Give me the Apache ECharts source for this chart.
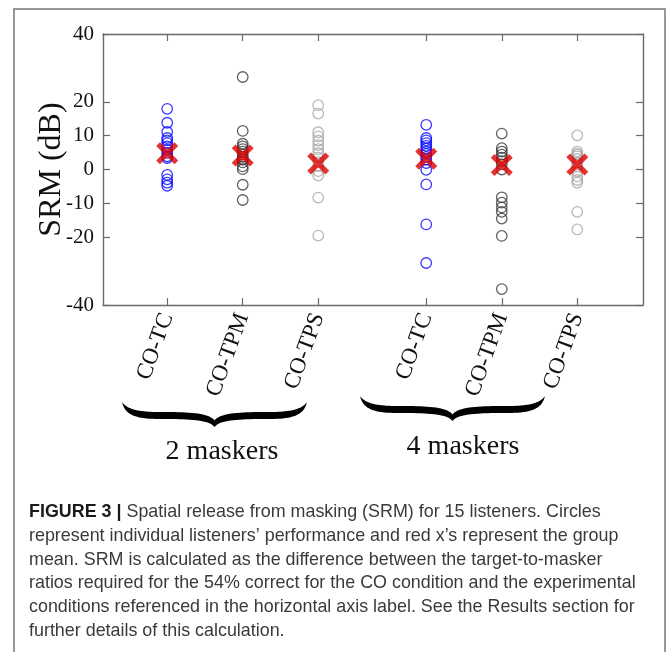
<!DOCTYPE html>
<html>
<head>
<meta charset="utf-8">
<script src="https://cdn.jsdelivr.net/npm/echarts@6/dist/echarts.min.js"></script>
<style>
html,body{margin:0;padding:0;background:#fff;}
#chart{width:669px;height:652px;}
</style>
</head>
<body>
<div id="chart"></div>
<script>
// ---- data ----
const positions = [1, 2, 3, 4.43, 5.43, 6.43];
const conditionLabels = ['CO-TC', 'CO-TPM', 'CO-TPS', 'CO-TC', 'CO-TPM', 'CO-TPS'];
const yTicks = [-40, -20, -10, 0, 10, 20, 40];
const groupLabels = ['2 maskers', '4 maskers'];

const tc2  = [17.9, 13.8, 11.1, 9.3, 8.6, 7.8, 6.8, 5.8, 4.9, 3.9, 3.4, -1.6, -2.9, -3.9, -4.8];
const tpm2 = [27.3, 11.4, 7.6, 6.8, 6.0, 5.3, 4.4, 3.7, 3.0, 2.9, 2.1, 0.9, 0.1, -4.5, -9.0];
const tps2 = [19.0, 16.5, 11.0, 9.8, 8.5, 7.2, 6.0, 4.8, 3.5, 2.2, 1.0, -0.5, -1.8, -8.3, -19.5];
const tc4  = [13.2, 9.3, 8.6, 7.8, 7.0, 6.2, 5.3, 4.6, 3.7, 2.9, 1.9, -0.1, -4.4, -16.2, -27.6];
const tpm4 = [10.6, 6.3, 5.3, 4.4, 3.5, 2.5, 1.5, 0.0, -8.2, -9.8, -11.2, -12.5, -14.5, -19.6, -35.3];
const tps4 = [10.1, 5.3, 4.7, 4.3, 3.9, 3.1, 2.1, 1.5, 0.9, -0.6, -2.1, -3.1, -3.9, -12.5, -17.7];
const means = [4.8, 4.1, 1.8, 3.2, 1.3, 1.5];

const captionLines = [
  'Spatial release from masking (SRM) for 15 listeners. Circles',
  'represent individual listeners\u2019 performance and red x\u2019s represent the group',
  'mean. SRM is calculated as the difference between the target-to-masker',
  'ratios required for the 54% correct for the CO condition and the experimental',
  'conditions referenced in the horizontal axis label. See the Results section for',
  'further details of this calculation.'
];

// ---- styling ----
const groups = [tc2, tpm2, tps2, tc4, tpm4, tps4];
const colors = ['#0a0aff', '#3a3a3a', '#a8a8a8', '#0a0aff', '#3a3a3a', '#a8a8a8'];
const serif = '"Liberation Serif", "Times New Roman", serif';
const sans = '"Liberation Sans", Arial, sans-serif';
const axisColor = '#6a6a6a';

function labelFor(v) {
  const i = positions.findIndex(p => Math.abs(p - v) < 1e-6);
  return i >= 0 ? conditionLabels[i] : '';
}

// decorative curly brace, sampled from cubic bezier outline into a polygon
function bracePoints(x0, x1, y0, h) {
  const W = x1 - x0, H = h;
  const P = (fx, fy) => [x0 + fx * W, y0 + fy * H];
  const segs = [
    [P(0, 0), P(0.015, 0.5), P(0.07, 0.68), P(0.2, 0.68)],
    [P(0.2, 0.68), P(0.36, 0.68), P(0.47, 0.7), P(0.5, 1)],
    [P(0.5, 1), P(0.53, 0.7), P(0.64, 0.68), P(0.8, 0.68)],
    [P(0.8, 0.68), P(0.93, 0.68), P(0.985, 0.5), P(1, 0)],
    [P(1, 0), P(0.97, 0.32), P(0.9, 0.4), P(0.8, 0.4)],
    [P(0.8, 0.4), P(0.65, 0.4), P(0.53, 0.42), P(0.5, 0.74)],
    [P(0.5, 0.74), P(0.47, 0.42), P(0.35, 0.4), P(0.2, 0.4)],
    [P(0.2, 0.4), P(0.1, 0.4), P(0.03, 0.32), P(0, 0)]
  ];
  const pts = [];
  segs.forEach(s => {
    for (let k = 0; k < 20; k++) {
      const t = k / 20, u = 1 - t;
      const a = u * u * u, b = 3 * u * u * t, c = 3 * u * t * t, d = t * t * t;
      pts.push([a * s[0][0] + b * s[1][0] + c * s[2][0] + d * s[3][0],
                a * s[0][1] + b * s[1][1] + c * s[2][1] + d * s[3][1]]);
    }
  });
  return pts;
}

const xMark = 'path://M0,1.7 L1.7,0 L5,3.3 L8.3,0 L10,1.7 L6.7,5 L10,8.3 L8.3,10 L5,6.7 L1.7,10 L0,8.3 L3.3,5 Z';

const series = groups.map((arr, i) => ({
  type: 'scatter',
  data: arr.map(v => [positions[i], v]),
  symbol: 'circle',
  symbolSize: 10.5,
  itemStyle: { color: 'rgba(0,0,0,0)', borderColor: colors[i], borderWidth: 1.3 },
  z: 2,
  silent: true
}));
series.push({
  type: 'scatter',
  data: means.map((v, i) => [positions[i], v]),
  symbol: xMark,
  symbolSize: 22,
  itemStyle: { color: '#dd0000' },
  z: 3,
  silent: true
});

const captionGraphics = captionLines.map((line, i) => ({
  type: 'text',
  x: 29,
  y: 512 + i * 23.8,
  style: {
    text: i === 0 ? '{b|FIGURE 3 |} ' + line : line,
    font: '17.9px ' + sans,
    fill: '#3a3a3a',
    verticalAlign: 'middle',
    rich: { b: { fontWeight: 'bold', fontSize: 17.9, fontFamily: sans, fill: '#1a1a1a' } }
  }
}));

const chart = echarts.init(document.getElementById('chart'));
chart.setOption({
  animation: false,
  backgroundColor: '#fff',
  grid: { left: 103, right: 26, top: 34, bottom: 347, show: false },
  xAxis: [{
    type: 'value', min: 0.15, max: 7.3, position: 'bottom',
    axisLine: { show: true, onZero: false, lineStyle: { color: axisColor, width: 1.4 } },
    axisTick: { show: true, inside: true, length: 7, customValues: positions, lineStyle: { color: axisColor, width: 1.2 } },
    axisLabel: { customValues: positions, formatter: labelFor, rotate: 70, margin: 9,
      fontFamily: serif, fontSize: 23, color: '#111' },
    splitLine: { show: false }
  }, {
    type: 'value', min: 0.15, max: 7.3, position: 'top',
    axisLine: { show: true, onZero: false, lineStyle: { color: axisColor, width: 1.4 } },
    axisTick: { show: true, inside: true, length: 7, customValues: positions, lineStyle: { color: axisColor, width: 1.2 } },
    axisLabel: { show: false },
    splitLine: { show: false }
  }],
  yAxis: [{
    type: 'value', min: -40, max: 40, interval: 10, position: 'left',
    axisLine: { show: true, onZero: false, lineStyle: { color: axisColor, width: 1.4 } },
    axisTick: { show: true, inside: true, length: 7, customValues: yTicks, lineStyle: { color: axisColor, width: 1.2 } },
    axisLabel: { customValues: yTicks, margin: 9, fontFamily: serif, fontSize: 21, color: '#111' },
    splitLine: { show: false },
    name: 'SRM (dB)', nameLocation: 'middle', nameGap: 35, nameMoveOverlap: false,
    nameTextStyle: { fontFamily: serif, fontSize: 32, color: '#111' }
  }, {
    type: 'value', min: -40, max: 40, interval: 10, position: 'right',
    axisLine: { show: true, onZero: false, lineStyle: { color: axisColor, width: 1.4 } },
    axisTick: { show: true, inside: true, length: 7, customValues: yTicks, lineStyle: { color: axisColor, width: 1.2 } },
    axisLabel: { show: false },
    splitLine: { show: false }
  }],
  series: series,
  graphic: [
    { type: 'rect', shape: { x: 14, y: 9, width: 651, height: 660 },
      style: { fill: 'none', stroke: '#777', lineWidth: 1.5 }, silent: true },
    { type: 'polygon', shape: { points: bracePoints(122, 307, 402, 25) }, style: { fill: '#000' }, silent: true },
    { type: 'polygon', shape: { points: bracePoints(360, 545, 396, 25) }, style: { fill: '#000' }, silent: true },
    { type: 'text', x: 222, y: 452, style: { text: groupLabels[0], font: '28px ' + serif, fill: '#111', align: 'center', verticalAlign: 'middle' } },
    { type: 'text', x: 463, y: 447, style: { text: groupLabels[1], font: '28px ' + serif, fill: '#111', align: 'center', verticalAlign: 'middle' } }
  ].concat(captionGraphics)
});
</script>
</body>
</html>
